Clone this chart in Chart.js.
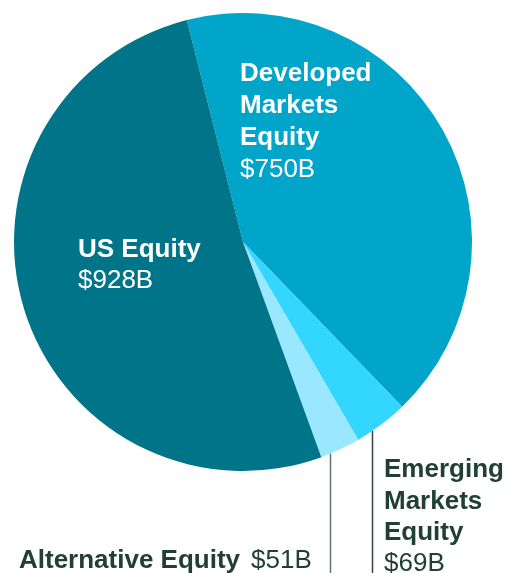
<!DOCTYPE html>
<html>
<head>
<meta charset="utf-8">
<script src="https://cdn.jsdelivr.net/npm/chart.js@4"></script>
<style>
  html, body { margin: 0; padding: 0; background: #fff; }
  #wrap { width: 507px; height: 573px; }
</style>
</head>
<body>
<div id="wrap"><canvas id="pie"></canvas></div>
<script>
// slices in drawing order (clockwise from the top)
const labels = ['Developed Markets Equity', 'Emerging Markets Equity', 'Alternative Equity', 'US Equity'];
const values = [750, 69, 51, 928];
const valueText = ['$750B', '$69B', '$51B', '$928B'];
const colors = ['#00a5c9', '#33d6ff', '#99e8ff', '#00758a'];

const FONT = '"Liberation Sans", Arial, sans-serif';
const INK = '#213f35';

function drawLines(ctx, x, baselines, lines, color) {
  lines.forEach((ln, i) => {
    ctx.font = (ln.bold ? 'bold ' : '') + '26px ' + FONT;
    ctx.fillStyle = color;
    ctx.fillText(ln.t, x, baselines[i]);
  });
}

// leader line from the arc's outer edge straight down
function leader(ctx, arc, x, color) {
  const dx = x - arc.x;
  const top = arc.y + Math.sqrt(arc.outerRadius * arc.outerRadius - dx * dx);
  ctx.strokeStyle = color;
  ctx.lineWidth = 1.5;
  ctx.beginPath();
  ctx.moveTo(x, top);
  ctx.lineTo(x, 573);
  ctx.stroke();
}

const labelPlugin = {
  id: 'labelPlugin',
  afterDraw(chart) {
    const ctx = chart.ctx;
    const arcs = chart.getDatasetMeta(0).data;
    ctx.save();
    ctx.textBaseline = 'alphabetic';
    ctx.textAlign = 'left';

    drawLines(ctx, 240, [81, 113, 145, 177], [
      { t: 'Developed', bold: true }, { t: 'Markets', bold: true },
      { t: 'Equity', bold: true }, { t: valueText[0] }
    ], '#ffffff');

    drawLines(ctx, 78, [257, 288], [
      { t: 'US Equity', bold: true }, { t: valueText[3] }
    ], '#ffffff');

    leader(ctx, arcs[1], 372.5, '#33433e');
    leader(ctx, arcs[2], 330.5, '#62736d');

    drawLines(ctx, 384, [477, 509, 540, 571], [
      { t: 'Emerging', bold: true }, { t: 'Markets', bold: true },
      { t: 'Equity', bold: true }, { t: valueText[1] }
    ], INK);

    ctx.font = 'bold 26px ' + FONT;
    ctx.fillStyle = INK;
    ctx.fillText('Alternative Equity', 19, 568);
    ctx.font = '26px ' + FONT;
    ctx.fillText(valueText[2], 251, 568);
    ctx.restore();
  }
};

new Chart(document.getElementById('pie'), {
  type: 'pie',
  data: {
    labels: labels,
    datasets: [{
      data: values,
      backgroundColor: colors,
      borderWidth: 0
    }]
  },
  options: {
    responsive: true,
    maintainAspectRatio: false,
    animation: false,
    rotation: -14.2,
    layout: { padding: { left: 14, right: 35, top: 13, bottom: 102 } },
    plugins: {
      legend: { display: false },
      tooltip: { enabled: false }
    }
  },
  plugins: [labelPlugin]
});
</script>
</body>
</html>
